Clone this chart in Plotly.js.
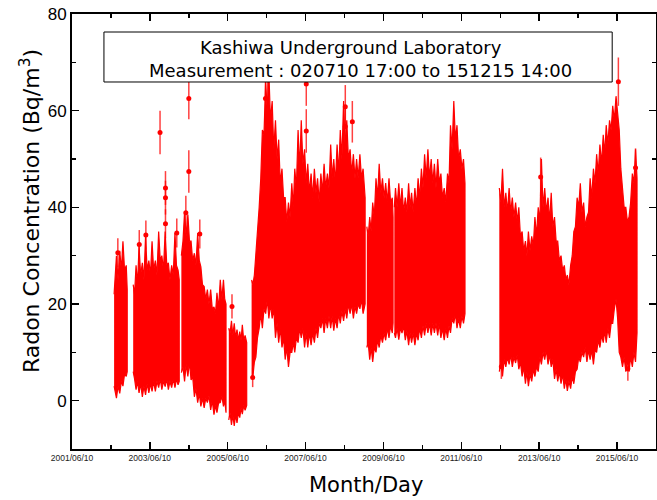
<!DOCTYPE html>
<html><head><meta charset="utf-8">
<script src="https://cdn.plot.ly/plotly-3.0.1.min.js"></script>
<style>html,body{margin:0;padding:0;background:#fff}#chart{width:657px;height:500px}</style>
</head><body><div id="chart"></div>
<script>
// Semi-monthly envelope of the radon record (null = no measurement)
const sampleDates = [
 '2002-07-10','2002-07-22','2002-08-01','2002-08-16','2002-09-01','2002-09-16','2002-10-01','2002-10-16','2002-11-01','2002-11-10',
 '2002-12-01',
 '2003-01-05','2003-01-18','2003-02-01','2003-02-15','2003-03-01','2003-03-16','2003-04-01','2003-04-16','2003-05-01','2003-05-16',
 '2003-06-01','2003-06-16','2003-07-01','2003-07-16','2003-08-01','2003-08-16','2003-09-01','2003-09-16','2003-10-01','2003-10-16',
 '2003-11-01','2003-11-16','2003-12-01','2003-12-16','2004-01-01','2004-01-16','2004-02-01','2004-02-15','2004-03-01','2004-03-12',
 '2004-03-20',
 '2004-04-01','2004-04-16','2004-05-01','2004-05-16','2004-06-01','2004-06-16','2004-07-01','2004-07-16','2004-08-01','2004-08-16',
 '2004-09-01','2004-09-16','2004-10-01','2004-10-16','2004-11-01','2004-11-16','2004-12-01','2004-12-16','2005-01-01','2005-01-16',
 '2005-02-01','2005-02-15','2005-03-01','2005-03-16','2005-04-01','2005-04-16','2005-05-01','2005-05-13','2005-05-25',
 '2005-06-05',
 '2005-06-20','2005-07-02','2005-07-15','2005-07-28','2005-08-10','2005-08-23','2005-09-05','2005-09-18','2005-10-01','2005-10-13',
 '2005-10-25','2005-11-07','2005-11-20','2005-12-05',
 '2005-12-20',
 '2006-01-20','2006-02-01','2006-02-15','2006-03-01','2006-03-16','2006-04-01','2006-04-16','2006-05-01','2006-05-16','2006-06-01',
 '2006-06-16','2006-07-01','2006-07-16','2006-08-01','2006-08-16','2006-09-01','2006-09-16','2006-10-01','2006-10-16','2006-11-01',
 '2006-11-16','2006-12-01','2006-12-16',
 '2007-01-01','2007-01-16','2007-02-01','2007-02-15','2007-03-01','2007-03-16','2007-04-01','2007-04-16','2007-05-01','2007-05-16',
 '2007-06-01','2007-06-16','2007-07-01','2007-07-16','2007-08-01','2007-08-16','2007-09-01','2007-09-16','2007-10-01','2007-10-16',
 '2007-11-01','2007-11-16','2007-12-01','2007-12-16',
 '2008-01-01','2008-01-16','2008-02-01','2008-02-15','2008-03-01','2008-03-16','2008-04-01','2008-04-16','2008-05-01','2008-05-16',
 '2008-06-01','2008-06-16','2008-07-01','2008-07-16','2008-08-01','2008-08-16','2008-09-01','2008-09-16','2008-10-01','2008-10-16',
 '2008-11-01','2008-11-16','2008-12-01','2008-12-20',
 '2008-12-28',
 '2009-01-05','2009-01-18','2009-02-01','2009-02-15','2009-03-01','2009-03-16','2009-04-01','2009-04-16','2009-05-01','2009-05-16',
 '2009-06-01','2009-06-16','2009-07-01','2009-07-16','2009-08-01','2009-08-16','2009-09-01','2009-09-08',
 '2009-09-14',
 '2009-09-20','2009-10-01','2009-10-16','2009-11-01','2009-11-16','2009-12-01','2009-12-16',
 '2010-01-01','2010-01-16','2010-02-01','2010-02-15','2010-03-01','2010-03-16','2010-04-01','2010-04-16','2010-05-01','2010-05-16',
 '2010-06-01','2010-06-16','2010-07-01','2010-07-16','2010-08-01','2010-08-16','2010-09-01','2010-09-16','2010-10-01','2010-10-16',
 '2010-11-01','2010-11-16','2010-12-01','2010-12-16',
 '2011-01-01','2011-01-16','2011-02-01','2011-02-15','2011-03-01','2011-03-16','2011-04-01','2011-04-16','2011-05-01','2011-05-16',
 '2011-06-01','2011-06-16','2011-07-01','2011-07-15',
 '2012-01-01',
 '2012-06-01','2012-06-16','2012-07-01','2012-07-16','2012-08-01','2012-08-16','2012-09-01','2012-09-16','2012-10-01','2012-10-16',
 '2012-11-01','2012-11-16','2012-12-01','2012-12-16',
 '2013-01-01','2013-01-16','2013-02-01','2013-02-15','2013-03-01','2013-03-16','2013-04-01','2013-04-16','2013-05-01','2013-05-16',
 '2013-06-01','2013-06-16','2013-07-01','2013-07-16','2013-08-01','2013-08-16','2013-09-01','2013-09-16','2013-10-01','2013-10-16',
 '2013-11-01','2013-11-16','2013-12-01','2013-12-16',
 '2014-01-01','2014-01-16','2014-02-01','2014-02-15','2014-03-01','2014-03-16','2014-04-01','2014-04-16','2014-05-01','2014-05-16',
 '2014-06-01','2014-06-16','2014-07-01','2014-07-16','2014-08-01','2014-08-16','2014-09-01','2014-09-16','2014-10-01','2014-10-16',
 '2014-11-01','2014-11-16','2014-12-01','2014-12-16',
 '2015-01-01','2015-01-16','2015-02-01','2015-02-15','2015-03-01','2015-03-16','2015-04-01','2015-04-16','2015-05-01','2015-05-16',
 '2015-06-01','2015-06-16','2015-07-01','2015-07-16','2015-08-01','2015-08-16','2015-09-01','2015-09-16','2015-10-01','2015-10-16',
 '2015-11-01','2015-11-16','2015-12-01','2015-12-15'
];
const upperEnvelope = [
 22,26,30,25,31,27,33,27,28,23,
 null,
 24,22,28,24,32,26,28.5,25,34,27,29,26,33,27,29,26,35,29,30,27,35,28,28.5,25,28,26,34.7,28,27,25,
 null,
 30,33,39,34,38.5,33,33,29,30.5,28,34.7,29,27.7,24,23.6,21,23,20,23,19,19.4,18,22.3,19,25,21,25,21,20,
 null,
 15,14,16.5,13.5,16,13,14.7,12.5,14.3,12.5,15.7,12.5,13.5,12,
 null,
 25,24,26,30,34,40,46,56,55,66,60,68,58,62,52,58,50,54,45,48,42,42,37,
 41,38,45,40,48,44,56,48,58,49,52,45,49,43,47,42,48,43,46,41,47,43,49,44,
 47,44,53,46,50,45,53,47,56,50,62,52,58,50,52,47,51,46,50,46,51,46,48,42,
 null,
 36,34,38,35,41,38,46,42,49,43,46,42,45,41,46,41,42,38,
 null,
 40,44,40,45,40,44,39,
 42,39,45,40,43,39,44,40,46,42,48,44,51,46,52,46,50,45,49,44,50,45,47,42,
 44,41,47,45,57,52,62,54,57,50,52,48,50,45,
 null,
 44,41,48,40,43,39,44,39,42,38,41,37,40,34,
 35,31,33,30,35,31,34,32,38,34,40,37,50,40,44,39,42,37,43,36,38,33,33,29,
 30,27,28,25,26,24,28,30,35,36,42,40,45,39,41,36,38,39,46,42,48,45,51,47,
 53,49,55,51,57,53,58,56,61,58,63,59,56,48,44,40,40,37,38,41,47,45,52,46
];
const lowerEnvelope = [
 3,2,0.5,3,1.5,4,3,5.5,5,6,
 null,
 6,4.5,2.3,4,1.6,3.5,0.8,3,1.2,3.5,1.6,3.5,1.9,4,1.9,4,2.7,4.5,2.3,4,2.9,4.5,2.3,4,2.7,4.5,2.7,4.5,3.3,4,
 null,
 5.8,7,4,7.5,5,8,4.3,5,0.8,2.5,-0.4,1.5,-1.2,0.5,-1.5,0.5,-0.4,1,-1.9,0,-2.9,-1,-2.5,-0.5,-0.4,1,-1.2,0,-2.5,
 null,
 -4,-2.5,-5,-3,-5.2,-3,-4.6,-2.5,-3.5,-1.5,-2.8,-1,-2,-1,
 null,
 4.5,5,8,9,13,15,18,15,19,18,21,17,20,17,19,13,16,12,15,11,13,8.5,11,
 7,10,10,12,10,13,12,15,13,15,11,14,11,14,11.5,14,12,15,13,16,15,17,14,17,
 15,17.5,15,17.5,14.5,17,15,18,16,18.5,16.5,19,17,20,18,20,17,19.5,18,20,19,21,18,20,
 null,
 11,12,8.5,11,8,11,10,12.5,11,13.5,12,14,12.5,15,13,15.5,14,16,
 null,
 14,13,15,12.6,15,14,15.5,
 12.5,14.5,11.5,14,12,14,11.5,14,12.5,15,13,15.5,13.5,16,14,16,13.5,16,14,16,13.5,16,13,15,
 12.5,15,13,15.5,14,17,16,18,15,17,15,17.5,16,18,
 null,
 6,8,5,8.5,7,9,7.5,9.5,7,9,7.8,9.5,6.5,8,
 5,7,3.5,6,3,5.5,4,6.5,5,7,6,9,7.5,10,8.5,10.5,7.5,9.5,7,8.5,4.5,6.5,4,6,
 3.5,5.5,2.5,4.5,2,4,2.5,5,3.5,6,6.5,9,8,10,9,11,8,10.5,8.5,10.5,7.5,10.5,10,12.5,
 11,13.5,12,14.5,12,15,13,16,16,19,21,17,10,9,7,9,6,8.5,6,9,7,10,8,14
];
// Individually visible measurements with their error bars
const peakDates = ['2002-08-14','2003-03-03','2003-05-04','2003-09-14','2003-11-04','2003-11-04','2003-11-04',
 '2004-02-18','2004-05-13','2004-06-10','2004-06-10','2004-09-21','2005-07-20','2006-01-30','2006-05-30',
 '2006-06-21','2007-06-17','2007-06-17','2008-06-17','2008-06-17','2008-08-22','2012-06-20','2013-06-24',
 '2015-06-23','2015-09-20','2015-12-01'];
const peakValues = [30.6,32.3,34.3,55.5,44,42,36.6,34.7,38.9,62.5,47.4,34.5,19.5,4.8,62.5,
 66.5,65.5,55.8,60.8,56.7,57.7,7,46.3,66,6.6,48.2];
const peakErrors = [3,3,3,4.5,3.5,3.5,3,3,3.5,4.3,4.4,3,2.5,2,4.5,
 4.5,4.5,4.5,4.5,4.3,4.3,2.5,4,5,2.5,4];

const xTickDates = ['2001-06-10','2003-06-10','2005-06-10','2007-06-10','2009-06-10','2011-06-10','2013-06-10','2015-06-10'];
const xTickLabels = ['2001/06/10','2003/06/10','2005/06/10','2007/06/10','2009/06/10','2011/06/10','2013/06/10','2015/06/10'];
const xMinorDates = ['2002-06-10','2004-06-10','2006-06-10','2008-06-10','2010-06-10','2012-06-10','2014-06-10','2016-06-10'];
const yTickValues = [0,20,40,60,80];
const yMinorValues = [-10,10,30,50,70];

// Build one closed outline per measurement period
const polyX = [], polyY = [];
let seg = [];
function flush(){
  if(!seg.length) return;
  seg.forEach(i => { polyX.push(sampleDates[i]); polyY.push(upperEnvelope[i]); });
  for(let k = seg.length - 1; k >= 0; k--){ polyX.push(sampleDates[seg[k]]); polyY.push(lowerEnvelope[seg[k]]); }
  polyX.push(null); polyY.push(null);
  seg = [];
}
for(let i = 0; i < sampleDates.length; i++){
  if(upperEnvelope[i] === null) flush(); else seg.push(i);
}
flush();

const RED = '#ff0000';
const traces = [
  {x: polyX, y: polyY, type: 'scatter', mode: 'lines', fill: 'toself', fillcolor: RED,
   line: {color: RED, width: 1.2}, connectgaps: false, hoverinfo: 'skip'},
  {x: peakDates, y: peakValues, type: 'scatter', mode: 'markers',
   marker: {color: RED, size: 5},
   error_y: {type: 'data', array: peakErrors, visible: true, color: 'rgba(255,0,0,0.75)', thickness: 1.5, width: 0}}
];

const TITLE_FONT = 'DejaVu Sans, sans-serif';
const layout = {
  width: 657, height: 500,
  margin: {l: 72, r: 1, t: 14, b: 51},
  paper_bgcolor: '#fff', plot_bgcolor: '#fff',
  showlegend: false,
  xaxis: {
    type: 'date', range: ['2001-06-10', '2016-06-10'],
    tickmode: 'array', tickvals: xTickDates, ticktext: xTickLabels,
    ticks: 'inside', ticklen: 7, tickwidth: 1.5, tickcolor: '#000',
    minor: {tickmode: 'array', tickvals: xMinorDates, ticks: 'inside', ticklen: 4, tickwidth: 1.5, tickcolor: '#000', showgrid: false},
    showline: true, linewidth: 2, linecolor: '#000', mirror: 'ticks',
    showgrid: false, zeroline: false,
    tickfont: {family: 'Liberation Sans, Arial, sans-serif', size: 8.5, color: '#222'}
  },
  yaxis: {
    range: [-10, 80],
    tickmode: 'array', tickvals: yTickValues,
    ticks: 'inside', ticklen: 7, tickwidth: 1.5, tickcolor: '#000',
    minor: {tickmode: 'array', tickvals: yMinorValues, ticks: 'inside', ticklen: 4, tickwidth: 1.5, tickcolor: '#000', showgrid: false},
    showline: true, linewidth: 2, linecolor: '#000', mirror: 'ticks',
    showgrid: false, zeroline: false,
    tickfont: {family: 'Liberation Sans, Arial, sans-serif', size: 17, color: '#000'}
  },
  shapes: [{type: 'rect', xref: 'paper', yref: 'paper', x0: 0.0547, x1: 0.925, y0: 0.8437, y1: 0.9586,
    line: {color: '#000', width: 1}, fillcolor: '#fff', layer: 'above'}],
  annotations: [
    {xref: 'paper', yref: 'paper', x: 0.477, y: 0.924, text: 'Kashiwa Underground Laboratory', showarrow: false,
     font: {family: TITLE_FONT, size: 18, color: '#000'}, xanchor: 'center', yanchor: 'middle'},
    {xref: 'paper', yref: 'paper', x: 0.494, y: 0.869, text: 'Measurement : 020710 17:00 to 151215 14:00', showarrow: false,
     font: {family: TITLE_FONT, size: 18, color: '#000'}, xanchor: 'center', yanchor: 'middle'},
    {xref: 'paper', yref: 'paper', x: -0.0718, y: 0.547, text: 'Radon Concentration (Bq/m<sup>3</sup>)', showarrow: false,
     textangle: -90, font: {family: TITLE_FONT, size: 22, color: '#000'}, xanchor: 'center', yanchor: 'middle'},
    {xref: 'paper', yref: 'paper', x: 0.504, y: -0.083, text: 'Month/Day', showarrow: false,
     font: {family: TITLE_FONT, size: 21, color: '#000'}, xanchor: 'center', yanchor: 'middle'}
  ]
};

Plotly.newPlot('chart', traces, layout, {displayModeBar: false, staticPlot: true});
</script>
</body></html>
